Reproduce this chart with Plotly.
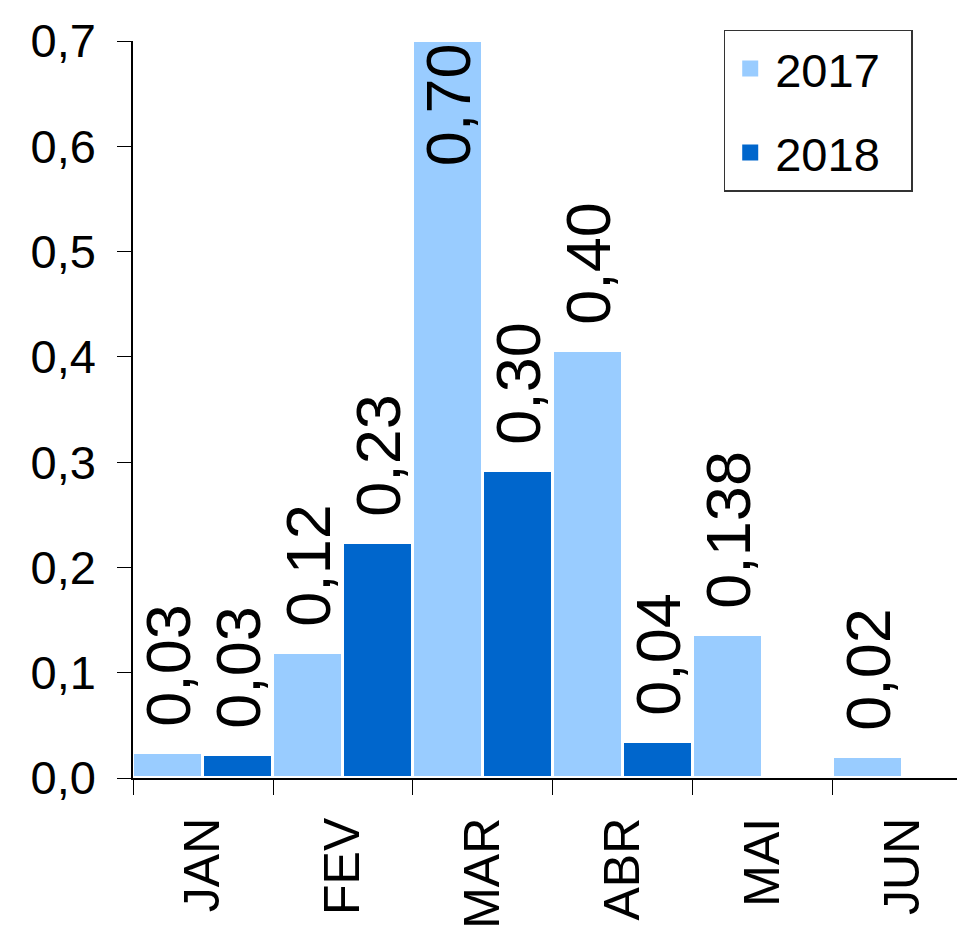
import plotly.graph_objects as go

months = ["JAN", "FEV", "MAR", "ABR", "MAI", "JUN"]
v2017 = [0.024, 0.119, 0.70, 0.406, 0.136, 0.020]
v2018 = [0.022, 0.223, 0.292, 0.034, None, None]
t2017 = ["0,03", "0,12", "0,70", "0,40", "0,138", "0,02"]
t2018 = ["0,03", "0,23", "0,30", "0,04", "", ""]
pos2017 = ["outside", "outside", "inside", "outside", "outside", "outside"]
pos2018 = ["outside", "outside", "outside", "outside", "outside", "outside"]
series_names = ["2017", "2018"]
colors = ["#99CCFF", "#0066CC"]

FONT = "Liberation Sans"
lblfont = dict(family=FONT, size=63, color="black")
GAP = "\u00a0\u200a"


def pad_labels(texts, positions):
    return [(GAP + t) if (p == "outside" and t) else t for t, p in zip(texts, positions)]


fig = go.Figure()
fig.add_trace(go.Bar(
    name=series_names[0], x=months, y=v2017, text=pad_labels(t2017, pos2017),
    textposition=pos2017,
    textangle=-90, textfont=lblfont, insidetextanchor="end",
    insidetextfont=lblfont, outsidetextfont=lblfont, constraintext="none",
    marker=dict(color=colors[0], line=dict(color="white", width=3)),
    cliponaxis=False, showlegend=False,
))
fig.add_trace(go.Bar(
    name=series_names[1], x=months, y=v2018, text=pad_labels(t2018, pos2018),
    textposition=pos2018,
    textangle=-90, textfont=lblfont, outsidetextfont=lblfont, constraintext="none",
    marker=dict(color=colors[1], line=dict(color="white", width=3)),
    cliponaxis=False, showlegend=False,
))
# legend entries with larger square markers
for nm, c in zip(series_names, colors):
    fig.add_trace(go.Scatter(
        name=nm + "\u00a0\u00a0", x=[None], y=[None], mode="markers", legendgroup=nm,
        marker=dict(symbol="square", size=28, color=c),
    ))

fig.update_layout(
    width=957, height=921,
    margin=dict(l=125, r=0, t=33, b=151),
    paper_bgcolor="white", plot_bgcolor="white",
    barmode="group", bargap=0, bargroupgap=0,
    font=dict(family=FONT, size=36, color="black"),
    legend=dict(x=0.71, y=1.015, xanchor="left", yanchor="top",
                bordercolor="#333333", borderwidth=1.5, bgcolor="white",
                font=dict(family=FONT, size=47), itemwidth=40,
                traceorder="grouped", tracegroupgap=20),
    showlegend=True,
)
fig.update_xaxes(
    range=[-0.5, 5.443], showgrid=False, showline=True, linecolor="black",
    linewidth=1.5, ticks="outside", ticklen=15, tickcolor="black",
    tickson="boundaries", tickangle=-90, automargin=False,
    ticklabelstandoff=18,
    tickfont=dict(family=FONT, size=50, color="black"),
)
fig.update_yaxes(
    range=[0, 0.7], showgrid=False, showline=True, linecolor="black",
    linewidth=1.5, ticks="outside", ticklen=14, tickcolor="black",
    tickvals=[0, 0.1, 0.2, 0.3, 0.4, 0.5, 0.6, 0.7],
    ticktext=["0,0", "0,1", "0,2", "0,3", "0,4", "0,5", "0,6", "0,7"],
    tickfont=dict(family=FONT, size=47, color="black"), zeroline=False,
    automargin=False, ticklabelstandoff=12,
)

fig.write_html("out.html")
